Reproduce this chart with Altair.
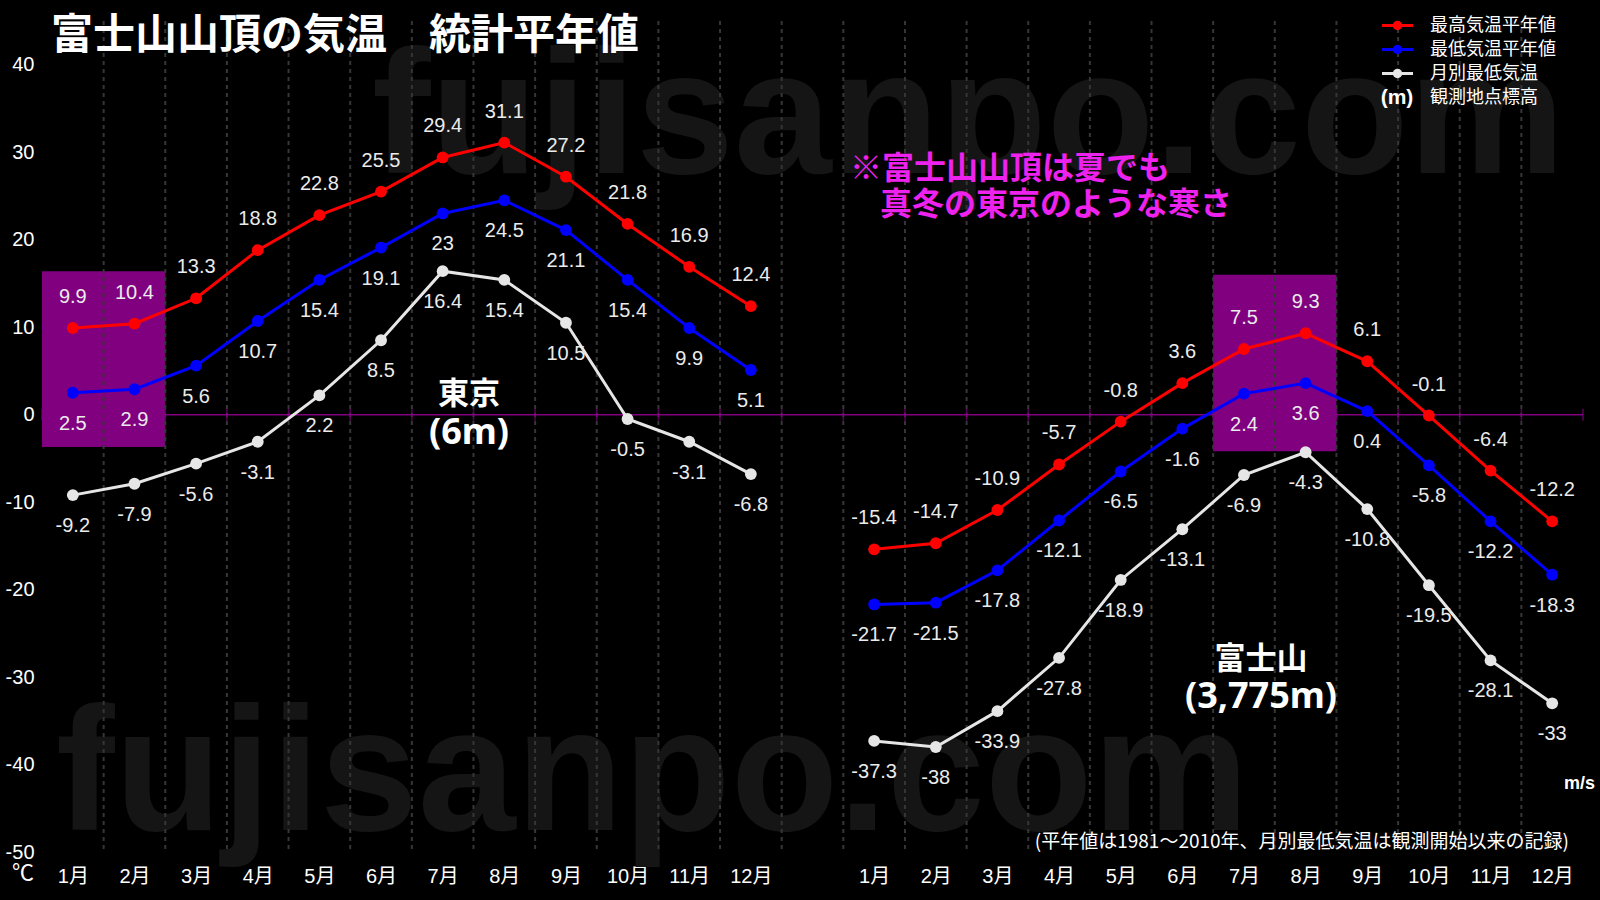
import json
import altair as alt
import pandas as pd

# ---------------- data ----------------
months = ["1月", "2月", "3月", "4月", "5月", "6月", "7月", "8月", "9月", "10月", "11月", "12月"]
sites = ["東京", "富士山"]
series_names = ["最高気温平年値", "最低気温平年値", "月別最低気温"]
series_colors = ["#ff0000", "#0000ff", "#e6e6e6"]

tokyo_max = [9.9, 10.4, 13.3, 18.8, 22.8, 25.5, 29.4, 31.1, 27.2, 21.8, 16.9, 12.4]
tokyo_min = [2.5, 2.9, 5.6, 10.7, 15.4, 19.1, 23.0, 24.5, 21.1, 15.4, 9.9, 5.1]
tokyo_rec = [-9.2, -7.9, -5.6, -3.1, 2.2, 8.5, 16.4, 15.4, 10.5, -0.5, -3.1, -6.8]

fuji_max = [-15.4, -14.7, -10.9, -5.7, -0.8, 3.6, 7.5, 9.3, 6.1, -0.1, -6.4, -12.2]
fuji_min = [-21.7, -21.5, -17.8, -12.1, -6.5, -1.6, 2.4, 3.6, 0.4, -5.8, -12.2, -18.3]
fuji_rec = [-37.3, -38.0, -33.9, -27.8, -18.9, -13.1, -6.9, -4.3, -10.8, -19.5, -28.1, -33.0]

y_ticks = [-50, -40, -30, -20, -10, 0, 10, 20, 30, 40]

# highlighted months (purple boxes): Tokyo Jan-Feb, Fuji Jul-Aug
hl_site = ["東京", "富士山"]
hl_first_month = [0, 6]
hl_last_month = [1, 7]
hl_low = [-3.7, -4.2]
hl_high = [16.4, 16.0]

# ---------------- tables ----------------
GAP = 1                      # one empty slot between the two groups
site_offset = {"東京": 0, "富士山": len(months) + GAP}
n_slots = 2 * len(months) + GAP

rows = []
for site, lists in zip(sites, [(tokyo_max, tokyo_min, tokyo_rec), (fuji_max, fuji_min, fuji_rec)]):
    for sname, vals in zip(series_names, lists):
        for i, v in enumerate(vals):
            rows.append({"site": site, "series": sname, "slot": site_offset[site] + i,
                         "value": v, "label": f"{v:g}"})
df = pd.DataFrame(rows)

month_slots = [site_offset[s] + i for s in sites for i in range(len(months))]
boundaries = [i + 0.5 for i in range(-1, n_slots)]
inner_boundaries = [b for b in boundaries if 0 < b < n_slots - 1]
grid_df = pd.DataFrame({"slot": inner_boundaries})
tick_df = pd.DataFrame({"slot": boundaries, "value": [0] * len(boundaries)})
zero_df = pd.DataFrame({"value": [0]})
hl_df = pd.DataFrame({
    "slot": [site_offset[s] + m - 0.5 for s, m in zip(hl_site, hl_first_month)],
    "slot2": [site_offset[s] + m + 0.5 for s, m in zip(hl_site, hl_last_month)],
    "value": hl_low,
    "value2": hl_high,
})

# ---------------- scales / axes ----------------
NUM_FONT = "'Liberation Sans', 'Noto Sans CJK JP', sans-serif"
CJK_FONT = "'Noto Sans CJK JP', sans-serif"

label_expr = json.dumps(months, ensure_ascii=False) + f"[datum.value % {len(months) + GAP}]"
x_scale = alt.Scale(domain=[-0.5, n_slots - 0.5], nice=False, zero=False)
y_scale = alt.Scale(domain=[-50, 45], nice=False, zero=False)
x_axis = alt.Axis(values=month_slots, labelExpr=label_expr, domain=False, ticks=False, grid=False,
                  labelColor="white", labelFontSize=20, labelFont=NUM_FONT, labelPadding=14,
                  labelAngle=0, labelOverlap=False, title=None)
y_axis = alt.Axis(values=y_ticks, labelExpr="'' + datum.value", domain=False, ticks=False,
                  grid=False, labelColor="white", labelFontSize=20, labelFont=NUM_FONT,
                  labelPadding=8, labelOverlap=False, title=None)

X = alt.X("slot:Q", scale=x_scale, axis=x_axis)
Y = alt.Y("value:Q", scale=y_scale, axis=y_axis)
color = alt.Color("series:N", scale=alt.Scale(domain=series_names, range=series_colors), legend=None)

ONE = alt.Data(values=[{}])


def text_layer(txt, x, y, size, color="white", font=CJK_FONT, weight="normal", align="center",
               baseline="middle"):
    return alt.Chart(ONE).mark_text(text=txt, x=x, y=y, fontSize=size, color=color, font=font,
                                    fontWeight=weight, align=align, baseline=baseline)


# ---------------- layers ----------------
watermark = [
    text_layer("fujisanpo.com", 330, 152, 176, color="#151515", font="'Liberation Sans'",
               weight="bold", align="left", baseline="alphabetic"),
    text_layer("fujisanpo.com", 14, 809, 176, color="#151515", font="'Liberation Sans'",
               weight="bold", align="left", baseline="alphabetic"),
]

rects = alt.Chart(hl_df).mark_rect(color="#800080").encode(
    x=X, x2="slot2:Q", y=Y, y2="value2:Q")

grid = alt.Chart(grid_df).mark_rule(color="#363636", strokeWidth=2, strokeDash=[4, 4]).encode(x=X)

zero_line = alt.Chart(zero_df).mark_rule(color="#800080", strokeWidth=1.5).encode(y=Y)
zero_ticks = alt.Chart(tick_df).mark_tick(color="#800080", orient="vertical", size=12,
                                          thickness=1.5).encode(x=X, y=Y)

lines = alt.Chart(df).mark_line(strokeWidth=3).encode(x=X, y=Y, color=color, detail="site:N")
points = alt.Chart(df).mark_point(filled=True, size=140, opacity=1).encode(x=X, y=Y, color=color)

labels_up = alt.Chart(df).transform_filter(
    alt.datum.series == series_names[0]
).mark_text(dy=-31, fontSize=20, color="#ebebeb", font=NUM_FONT).encode(x=X, y=Y, text="label:N")
labels_down = alt.Chart(df).transform_filter(
    alt.datum.series != series_names[0]
).mark_text(dy=31, fontSize=20, color="#ebebeb", font=NUM_FONT).encode(x=X, y=Y, text="label:N")

annotations = [
    text_layer("富士山山頂の気温　統計平年値", 9, 15, 42, weight="bold", align="left"),
    text_layer("※富士山山頂は夏でも", 808, 148, 32, color="#ee22ee", weight="bold", align="left"),
    text_layer("真冬の東京のような寒さ", 838, 184, 32, color="#ee22ee", weight="bold", align="left"),
    text_layer("東京", 427, 374, 31, weight="bold"),
    text_layer("(6m)", 427, 412, 36, weight="bold", font="'Noto Sans', sans-serif"),
    text_layer("富士山", 1219, 639, 31, weight="bold"),
    text_layer("(3,775m)", 1219, 676, 36, weight="bold", font="'Noto Sans', sans-serif"),
    text_layer("(平年値は1981～2010年、月別最低気温は観測開始以来の記録)", 1527, 821, 19,
               align="right"),
    text_layer("m/s", 1553, 763, 18, weight="bold", font="'Liberation Sans'", align="right"),
    text_layer("℃", -19, 852, 22),
]

legend_layers = []
legend_y = [4.5, 28.5, 52.5]
for name, col, ly in zip(series_names, series_colors, legend_y):
    legend_layers.append(alt.Chart(ONE).mark_rule(color=col, strokeWidth=3).encode(
        x=alt.value(1340), x2=alt.value(1371), y=alt.value(ly)))
    legend_layers.append(alt.Chart(ONE).mark_point(filled=True, size=90, opacity=1, color=col).encode(
        x=alt.value(1355.5), y=alt.value(ly)))
    legend_layers.append(text_layer(name, 1388, ly, 18, align="left"))
legend_layers.append(text_layer("(m)", 1355, 77, 21, weight="bold", font="'Liberation Sans'"))
legend_layers.append(text_layer("観測地点標高", 1388, 77, 18, align="left"))

chart = alt.layer(
    *watermark, rects, grid, zero_line, zero_ticks, lines, points, labels_up, labels_down,
    *annotations, *legend_layers
).properties(
    width=1541, height=831,
    padding={"left": 42, "top": 21, "right": 17, "bottom": 48},
    autosize=alt.AutoSizeParams(type="none"),
).configure(background="black").configure_view(strokeWidth=0)

chart.save("out.html", embed_options={"renderer": "svg", "actions": False})
